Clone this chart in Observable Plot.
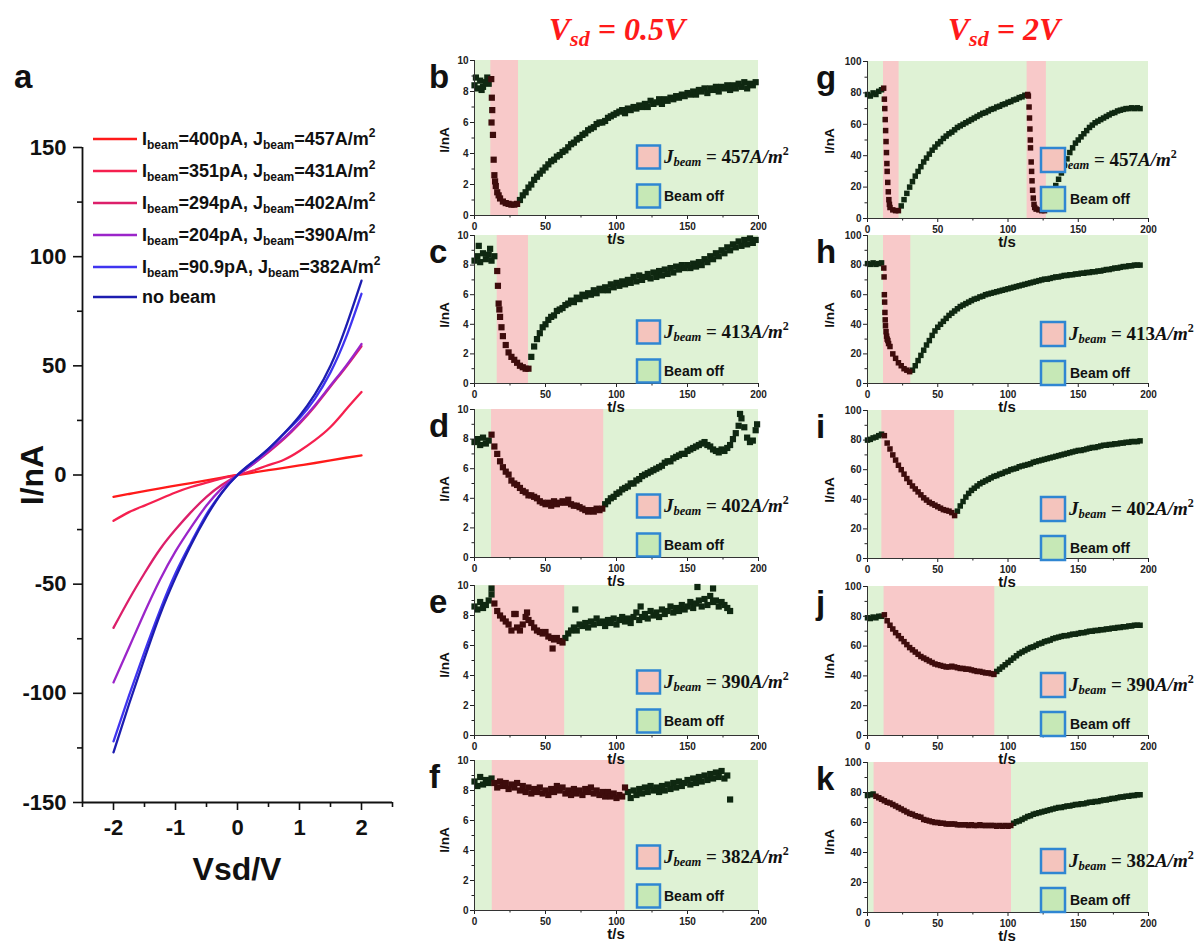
<!DOCTYPE html>
<html>
<head>
<meta charset="utf-8">
<script src="https://cdn.jsdelivr.net/npm/d3@7"></script>
<script src="https://cdn.jsdelivr.net/npm/@observablehq/plot@0.6"></script>
<style>
html,body{margin:0;padding:0;background:#fff;}
#fig{position:relative;width:1203px;height:944px;overflow:hidden;background:#fff;}
#fig svg{position:absolute;overflow:visible;}
</style>
</head>
<body>
<div id="fig"></div>
<script>
// ================= DATA =================
// Panel a: I-V curves
const ivV = [-2,-1.75,-1.5,-1.25,-1,-0.75,-0.5,-0.25,0,0.25,0.5,0.75,1,1.25,1.5,1.75,2];
const iv400  = [-10,-8.7,-7.4,-6.1,-4.9,-3.7,-2.5,-1.2,0,1.1,2.2,3.3,4.4,5.5,6.7,7.9,9];
const iv351  = [-21,-17,-14,-11,-8,-5.5,-3.5,-1.5,0,2,4.5,7,11,16,22,30,38];
const iv294  = [-70,-57,-45,-34,-25,-17,-10,-4.5,0,5,10.5,16.5,23.5,31.5,40.5,49.5,59];
const iv204  = [-95,-79,-63,-48,-35,-24,-14,-6,0,5,11,17,24,32,41,50,60];
const iv909  = [-122,-101,-81,-62,-45,-31,-18,-8,0,6,12,19,26,35,47,63,83];
const ivNone = [-127,-105,-84,-64,-47,-32,-19,-8,0,6,12,19,27,37,50,68,89];
const ivIbeam = ["400pA","351pA","294pA","204pA","90.9pA"];
const ivJbeam = ["457","431","402","390","382"];
const ivColors = ["#ff1a1a","#f5204f","#dc1f6a","#9b25c9","#3f34f0","#1d1db0"];
const aXTicks = [-2,-1,0,1,2], aXMinor = [-2.5,-1.5,-0.5,0.5,1.5,2.5];
const aYTicks = [-150,-100,-50,0,50,100,150], aYMinor = [-125,-75,-25,25,75,125];

// Time traces: current sampled every 2 s from t = 0; fast transient samples as [t, I]
const I_b = [8.4,8.2,8.7,8.3,8.6,8.5, 6.0,2.6,1.5,1.1,0.9,0.8,0.75,0.7,0.7,0.75,
 1.0,1.3,1.5,1.8,2.0,2.3,2.5,2.7,2.9,3.1, 3.3,3.5,3.6,3.8,3.9,4.1,4.2,4.4,4.6,4.7,
 4.9,5.0,5.2,5.3,5.5,5.6,5.7,5.9,6.0,6.0, 6.1,6.3,6.4,6.5,6.6,6.7,6.8,6.6,6.9,6.8,
 7.0,6.9,7.1,7.0,7.2,7.0,7.4,7.2,7.3,7.5, 7.2,7.5,7.4,7.6,7.5,7.7,7.6,7.8,7.7,7.9,
 7.8,8.0,7.8,8.1,8.0,8.2,7.9,8.2,8.1,8.3, 8.0,8.3,8.2,8.4,8.1,8.4,8.2,8.5,8.3,8.6, 8.2,8.5,8.4,8.6];
const fast_b = [[11.8,8.8],[12.2,7.6],[12.5,6.8],[13,5.2],[13.5,3.6],[14.5,2.2],[15,1.9],[17,1.3],[1,8.9],[5,8.1],[9,8.9]];
const on_b = [[11.5,31]];

const I_c = [8.3,8.6,8.2,8.8,8.4,8.7,8.3,8.6,
 7.6,4.5,3.2,2.6,2.1,1.8,1.6,1.4,1.2,1.1,1.0,1.0,
 1.8,2.5,3.0,3.4,3.8,4.0,4.3,4.5,4.6,4.9, 5.0,5.1,5.3,5.4,5.6,5.5,5.8,5.7,6.0,5.9,
 6.1,6.0,6.3,6.1,6.4,6.3,6.5,6.3,6.7,6.5, 6.8,6.6,6.9,6.7,7.0,6.8,7.2,6.9,7.3,7.0,
 7.2,7.4,7.1,7.5,7.2,7.6,7.3,7.7,7.4,7.8, 7.5,7.9,7.7,8.0,7.8,8.0,7.8,8.1,7.9,8.2,
 8.0,8.4,8.2,8.6,8.4,8.8,8.6,9.0,8.8,9.2, 9.0,9.4,9.2,9.6,9.3,9.7,9.4,9.8,9.5,9.7];
const fast_c = [[16.5,6.6],[17,5.4],[17.5,5.0],[19,3.8],[3,9.3],[11,9.1]];
const on_c = [[16,38]];

const I_d = [7.8,8.0,7.6,8.1,7.7,7.9,
 8.3,7.5,7.0,6.5,6.1,5.8,5.6,5.2,5.0,4.9, 4.7,4.5,4.4,4.2,4.2,4.1,4.0,3.8,3.7,3.6,
 3.7,3.5,3.8,3.6,3.7,3.8,3.7,3.9,3.6,3.5, 3.5,3.4,3.3,3.2,3.1,3.2,3.1,3.3,3.2,3.3,
 3.6,3.8,4.0,4.1,4.3,4.4,4.6,4.7,4.8,5.0, 5.0,5.2,5.3,5.5,5.6,5.7,5.8,5.9,6.0,6.1,
 6.2,6.4,6.5,6.5,6.7,6.8,6.9,7.0,7.0,7.2, 7.3,7.4,7.5,7.6,7.7,7.8,7.6,7.5,7.3,7.2,
 7.1,7.3,7.2,7.4,7.6,8.0,8.4,8.9,9.4,8.8, 8.1,7.8,7.9,8.6];
const fast_d = [[187,9.7],[199,9.0]];
const on_d = [[12,91]];

const I_e = [8.6,8.4,8.9,8.5,8.7,9.0,9.4,
 8.8,8.3,8.0,7.8,7.6,7.4,7.0,8.1,7.2,7.0, 7.4,7.9,7.7,7.5,7.2,7.0,6.9,6.8,6.9,6.6,
 6.5,6.4,6.5,6.3,6.2,
 6.5,6.8,7.0,7.2,7.0,7.4,7.3,7.5,7.2,7.6, 7.4,7.8,7.5,7.6,7.3,7.7,7.5,7.8,7.4,7.7,
 7.9,7.6,7.8,7.5,7.9,8.2,7.7,7.9,8.1,7.8, 8.3,8.0,8.2,7.9,8.4,8.1,8.3,8.6,8.2,8.5,
 8.3,8.7,8.4,8.6,8.9,8.5,8.8,9.0,8.6,9.1, 8.7,9.3,8.9,9.0,8.6,8.9,8.7,8.5,8.3];
const fast_e = [[29,8.1],[37,8.2],[55,5.8],[71,8.4],[117,8.6],[157,9.9],[168,9.8],[12,9.8]];
const on_e = [[12.5,63.5]];

const I_f = [8.6,8.3,8.9,8.4,8.7,8.5,8.8,
 8.5,8.2,8.6,8.3,8.5,8.1,8.4,8.2,8.5,8.0, 8.3,7.9,8.2,7.8,8.1,7.9,8.2,7.8,8.0,7.7,
 8.1,7.9,8.3,8.0,8.2,7.8,8.0,7.7,8.1,7.8, 8.0,7.7,8.1,7.9,8.2,7.8,8.0,7.7,7.9,7.6,
 7.9,7.6,7.8,7.5,7.7,7.6,
 8.2,7.9,7.5,8.0,7.7,8.1,7.8,8.2,7.9,8.3, 8.0,8.2,7.9,8.3,8.0,8.4,8.1,8.5,8.2,8.6,
 8.3,8.5,8.7,8.4,8.8,8.5,8.9,8.6,9.0,8.7, 9.1,8.8,9.2,8.9,9.3,8.8,9.0,7.4];
const fast_f = [];
const on_f = [[12.5,106]];

const I_g = [79,78,80,79,81,82,
 76,30,7,5.5,5,5,
 8,12,16,20,23.5,27,30,33,36,38.5, 41,43.5,45.5,47.5,49,51,52.5,54,55,56.5,
 58,59,60,61,62,63,64,65,66,67, 67.5,68.5,69.5,70,71,71.5,72.5,73,74,74.5,
 75.5,76,77,77.5,78.5,79,
 45,13,6,5.5,5,5,
 8,13,17,21,25,29,34,38,42,45, 48,50,52,54,56,58,59.5,61,62,63,
 64,65,66,67,67.5,68.5,69,69.5,70,70, 70.5,70,70.5,70];
const fast_g = [[11.5,83],[12.3,70],[12.6,63],[12.9,56],[13.2,49],[13.5,42],[13.8,35],[14.4,23],[14.8,17],[15.2,12],[15.6,9],
 [114.5,78],[115,71],[115.3,64],[115.6,57],[115.9,50],[116.5,36],[116.8,30],[117.1,24],[117.5,18],[118.5,9],[119,7]];
const on_g = [[11.4,22.5],[113.6,127.3]];

const I_h = [81,80.5,81.5,80.5,81,81.5,
 60,30,25,20,17,14,12,10,9,8,
 9,12,15.5,19,22.5,26,29,32.5,35.5,38, 40,42,44,46,47.5,49,50.5,52,53,54,
 55,56,57,57.5,58.5,59,60,60.5,61,61.5, 62,62.5,63,63.5,64,64.5,65,65.5,66,66.5,
 67,67.5,68,68.5,69,69.5,70,70.5,70.5,71, 71.5,72,72,72.5,73,73,73.5,73.5,74,74,
 74.5,74.5,75,75,75.5,75.5,76,76,76.5,77, 77,77.5,78,78,78.5,79,79,79.5,79.5,80, 80,80];
const fast_h = [[11.6,78],[11.8,72],[12.2,55],[12.4,48],[12.6,43],[12.8,39],[13.2,35],[13.6,32],[14.5,29],[15,27]];
const on_h = [[11.4,30.8]];

const I_i = [80,80.5,81.5,82,83,84,
 83,78,74,70,66.5,63,60,57,54,51.5, 49,47,45,43,41,39.5,38,37,36,35,
 34,33,32.5,32,31,29,
 32,35.5,38.5,41.5,44,46,47.5,49,50.5,51.5, 52.5,53.5,54.5,55.5,56,57,57.5,58.5,59,60,
 60.5,61,62,62.5,63,63.5,64,65,65.5,66, 66.5,67,67.5,68,68.5,69,69.5,70,70.5,71,
 71.5,72,72.5,73,73,73.5,74,74.5,75,75, 75.5,76,76.5,76.5,77,77,77.5,77.5,78,78,
 78.5,78.5,79,79,79,79.5];
const fast_i = [];
const on_i = [[10.2,62]];

const I_j = [79,78.5,79.5,79,80,80,
 81,77,74,71.5,69,67,65,63,61,59, 57.5,56,54.5,53,52,51,50,49,48,47.5,
 47,46.5,46,46,46.5,46,45.5,45,45,44.5, 44.5,44,43.5,43,43,42.5,42,42,41.5,41,
 43,44.5,46,47.5,49,50.5,52,53.5,55,56, 57,58,59,59.5,60.5,61.5,62,63,63.5,64,
 65,65.5,66,66.5,67,67,67.5,68,68,68.5, 69,69,69.5,70,70,70.5,70.5,71,71,71.5,
 71.5,72,72,72.5,72.5,73,73,73.5,73.5,74, 74,74];
const fast_j = [];
const on_j = [[11.8,90.6]];

const I_k = [78,78.5,79,77.5,76.5,75.5,
 74.5,73.5,73,72,71,70,69,68,67,66, 65.5,64.5,64,63.5,62,61.5,61,60.5,60,60,
 59.5,59.5,59,59,59,59,58.5,58.5,58.5,58.5, 58,58.5,58,58,58.5,58,58,58,58,58,
 57.5,58,57.5,58,57.5,58,59.5,60.5,61,62, 63,64,64.5,65.5,66,66.5,67,67.5,68,68.5,
 69,69.5,70,70,70.5,71,71,71.5,72,72, 72.5,72.5,73,73.5,73.5,74,74,74.5,75,75,
 75.5,76,76,76.5,77,77,77.5,77.5,78,78, 78.5,78.5];
const fast_k = [];
const on_k = [[4.7,102.5]];

const jLabels = ["457","413","402","390","382"];
const bgSpan = [0, 200];
const tMajor = [0,50,100,150,200], tMinor = [25,75,125,175];
const yt05 = [0,2,4,6,8,10], ym05 = [1,3,5,7,9];
const yt2 = [0,20,40,60,80,100], ym2 = [10,30,50,70,90];

// ================= STYLE =================
const SANS = '"Liberation Sans", Arial, Helvetica, sans-serif';
const SERIF = '"Liberation Serif", "DejaVu Serif", serif';
const GREEN_BG = "#dff2d5", PINK_BG = "#f8c9c9", ON_C = "#3e0c0c", OFF_C = "#0f2811";
const BOX_BORDER = "#2f86d2", BOX_PINK = "#f4c4bd", BOX_GREEN = "#c6e8b6";

const fig = document.getElementById("fig");
function place(svg, left, top) { svg.style.left = left + "px"; svg.style.top = top + "px"; fig.appendChild(svg); }

// ================= PANEL a =================
(function () {
  const series = [iv400, iv351, iv294, iv204, iv909, ivNone];
  const mL = 82, mT = 147, mR = 28, mB = 98, fw = 310, fh = 655;
  const svg = Plot.plot({
    width: fw + mL + mR, height: fh + mT + mB,
    marginLeft: mL, marginRight: mR, marginTop: mT, marginBottom: mB,
    x: {domain: [-2.5, 2.5]}, y: {domain: [-150, 150]},
    style: {background: "transparent", fontFamily: SANS, fontSize: "22px", fontWeight: "bold", color: "#111"},
    marks: [
      ...series.map((s, k) => Plot.line(ivV.map((v, i) => ({V: v, I: s[i]})),
        {x: "V", y: "I", stroke: ivColors[k], strokeWidth: 2.3, curve: "natural"})),
      Plot.axisX({ticks: aXTicks, tickSize: 8, tickPadding: 9, strokeWidth: 1.6, label: null, tickFormat: d => String(d)}),
      Plot.axisX({ticks: aXMinor, tickSize: 5, strokeWidth: 1.6, label: null, tickFormat: () => ""}),
      Plot.axisY({ticks: aYTicks, tickSize: 9, tickPadding: 7, strokeWidth: 1.6, label: null, tickFormat: d => String(d)}),
      Plot.axisY({ticks: aYMinor, tickSize: 5, strokeWidth: 1.6, label: null, tickFormat: () => ""}),
      Plot.ruleX([-2.5], {strokeWidth: 1.8}),
      Plot.ruleY([-150], {strokeWidth: 1.8})
    ]
  });
  place(svg, 0, 0);
})();

// ================= SMALL PANELS =================
function smallPanel(c) {
  const mL = 40, mR = 14, mT = 8, mB = 24;
  const fw = c.right - c.left, fh = c.bottom - c.top;
  const pts = c.I.map((v, i) => ({t: i * 2, I: v})).concat(c.fast.map(([t, v]) => ({t, I: v})));
  const inOn = d => c.on.some(([a, b]) => d.t >= a && d.t <= b);
  const svg = Plot.plot({
    width: fw + mL + mR, height: fh + mT + mB,
    marginLeft: mL, marginRight: mR, marginTop: mT, marginBottom: mB,
    x: {domain: [0, 200]}, y: {domain: [0, c.ymax]},
    style: {background: "transparent", fontFamily: SANS, fontSize: "10px", fontWeight: "bold", color: "#222"},
    marks: [
      Plot.rect([bgSpan], {x1: d => d[0], x2: d => d[1], y1: 0, y2: c.ymax, fill: GREEN_BG}),
      Plot.rect(c.on, {x1: d => d[0], x2: d => d[1], y1: 0, y2: c.ymax, fill: PINK_BG}),
      Plot.dot(pts.filter(d => !inOn(d)), {x: "t", y: "I", symbol: "square", r: c.r, fill: OFF_C}),
      Plot.dot(pts.filter(inOn), {x: "t", y: "I", symbol: "square", r: c.r, fill: ON_C}),
      Plot.axisX({ticks: tMajor, tickSize: 4, tickPadding: 3, label: null}),
      Plot.axisX({ticks: tMinor, tickSize: 2.5, label: null, tickFormat: () => ""}),
      Plot.axisY({ticks: c.yt, tickSize: 4, tickPadding: 2, label: null}),
      Plot.axisY({ticks: c.ym, tickSize: 2.5, label: null, tickFormat: () => ""}),
      Plot.ruleX([0], {stroke: "#333"}),
      Plot.ruleY([0], {stroke: "#333"})
    ]
  });
  place(svg, c.left - mL, c.top - mT);
}

const col1 = {left: 474, right: 758, tops: [60, 235, 409, 585, 760], bottoms: [215, 383, 557, 735, 910]};
const col2 = {left: 867, right: 1148, tops: [61, 235, 410, 586, 762], bottoms: [218, 383, 558, 735, 912]};
const col1Data = [[I_b, fast_b, on_b], [I_c, fast_c, on_c], [I_d, fast_d, on_d], [I_e, fast_e, on_e], [I_f, fast_f, on_f]];
const col2Data = [[I_g, fast_g, on_g], [I_h, fast_h, on_h], [I_i, fast_i, on_i], [I_j, fast_j, on_j], [I_k, fast_k, on_k]];
col1Data.forEach(([I, fast, on], k) => smallPanel({left: col1.left, right: col1.right, top: col1.tops[k], bottom: col1.bottoms[k], ymax: 10, yt: yt05, ym: ym05, r: 3.5, I, fast, on}));
col2Data.forEach(([I, fast, on], k) => smallPanel({left: col2.left, right: col2.right, top: col2.tops[k], bottom: col2.bottoms[k], ymax: 100, yt: yt2, ym: ym2, r: 3.1, I, fast, on}));

// ================= ANNOTATIONS =================
let o = `<svg width="1203" height="944" style="left:0;top:0;pointer-events:none" font-family='${SANS}' font-weight="bold" fill="#111">`;
// titles
o += `<text x="617" y="40" text-anchor="middle" fill="#ff1a1a" font-family='${SERIF}' font-style="italic" font-size="32">V<tspan font-size="22" dy="6">sd</tspan><tspan dy="-6"> = 0.5V</tspan></text>`;
o += `<text x="1004" y="40" text-anchor="middle" fill="#ff1a1a" font-family='${SERIF}' font-style="italic" font-size="32">V<tspan font-size="22" dy="6">sd</tspan><tspan dy="-6"> = 2V</tspan></text>`;
// panel letters
o += `<text x="14" y="88" font-size="33">a</text>`;
"bcdef".split("").forEach((L, k) => { o += `<text x="429" y="${col1.tops[k] + 28}" font-size="33">${L}</text>`; });
"ghijk".split("").forEach((L, k) => { o += `<text x="816" y="${col2.tops[k] + 28}" font-size="33">${L}</text>`; });
// panel a axis titles
o += `<text transform="translate(43,475) rotate(-90)" text-anchor="middle" font-size="32">I/nA</text>`;
o += `<text x="237" y="880" text-anchor="middle" font-size="32">Vsd/V</text>`;
// panel a legend
const legY = [139, 171, 203, 235, 267, 297];
legY.forEach((y, k) => {
  o += `<line x1="93" x2="137" y1="${y}" y2="${y}" stroke="${ivColors[k]}" stroke-width="2.5"/>`;
  if (k < 5) {
    o += `<text x="142" y="${y + 6}" font-size="18">I<tspan font-size="12" dy="4">beam</tspan><tspan dy="-4">=${ivIbeam[k]}, J</tspan><tspan font-size="12" dy="4">beam</tspan><tspan dy="-4">=${ivJbeam[k]}A/m</tspan><tspan font-size="12" dy="-8">2</tspan></text>`;
  } else {
    o += `<text x="142" y="${y + 6}" font-size="18">no beam</text>`;
  }
});
// small panel axis titles and legends
function smallLabels(col, k, ilx, tx, bx, jx, ox, c1, c2, bs) {
  const T = col.tops[k], B = col.bottoms[k];
  o += `<text transform="translate(${ilx},${T + 80}) rotate(-90)" text-anchor="middle" font-size="13.5">I/nA</text>`;
  o += `<text x="${tx}" y="${B + 29}" text-anchor="middle" font-size="15">t/s</text>`;
  o += `<text x="${jx}" y="${T + c1 + 6}" font-family='${SERIF}' font-size="19"><tspan font-style="italic">J</tspan><tspan font-style="italic" font-size="12.5" dy="3">beam</tspan><tspan dy="-3"> = ${jLabels[k]}</tspan><tspan font-style="italic">A/m</tspan><tspan font-size="12" dy="-8">2</tspan></text>`;
  o += `<text x="${ox}" y="${T + c2 + 5}" font-size="14">Beam off</text>`;
  o += `<rect x="${bx}" y="${T + c1 - bs / 2}" width="${bs}" height="${bs}" fill="${BOX_PINK}" stroke="${BOX_BORDER}" stroke-width="2.5"/>`;
  o += `<rect x="${bx}" y="${T + c2 - bs / 2}" width="${bs}" height="${bs}" fill="${BOX_GREEN}" stroke="${BOX_BORDER}" stroke-width="2.5"/>`;
}
for (let k = 0; k < 5; k++) smallLabels(col1, k, 449, 616, 637, 664, 664, 97, 136, 23);
for (let k = 0; k < 5; k++) smallLabels(col2, k, 834, 1007, 1041, k === 0 ? 1052 : 1069, 1070, 99, 138, 24);
o += `</svg>`;
fig.insertAdjacentHTML("beforeend", o);
</script>
</body>
</html>
